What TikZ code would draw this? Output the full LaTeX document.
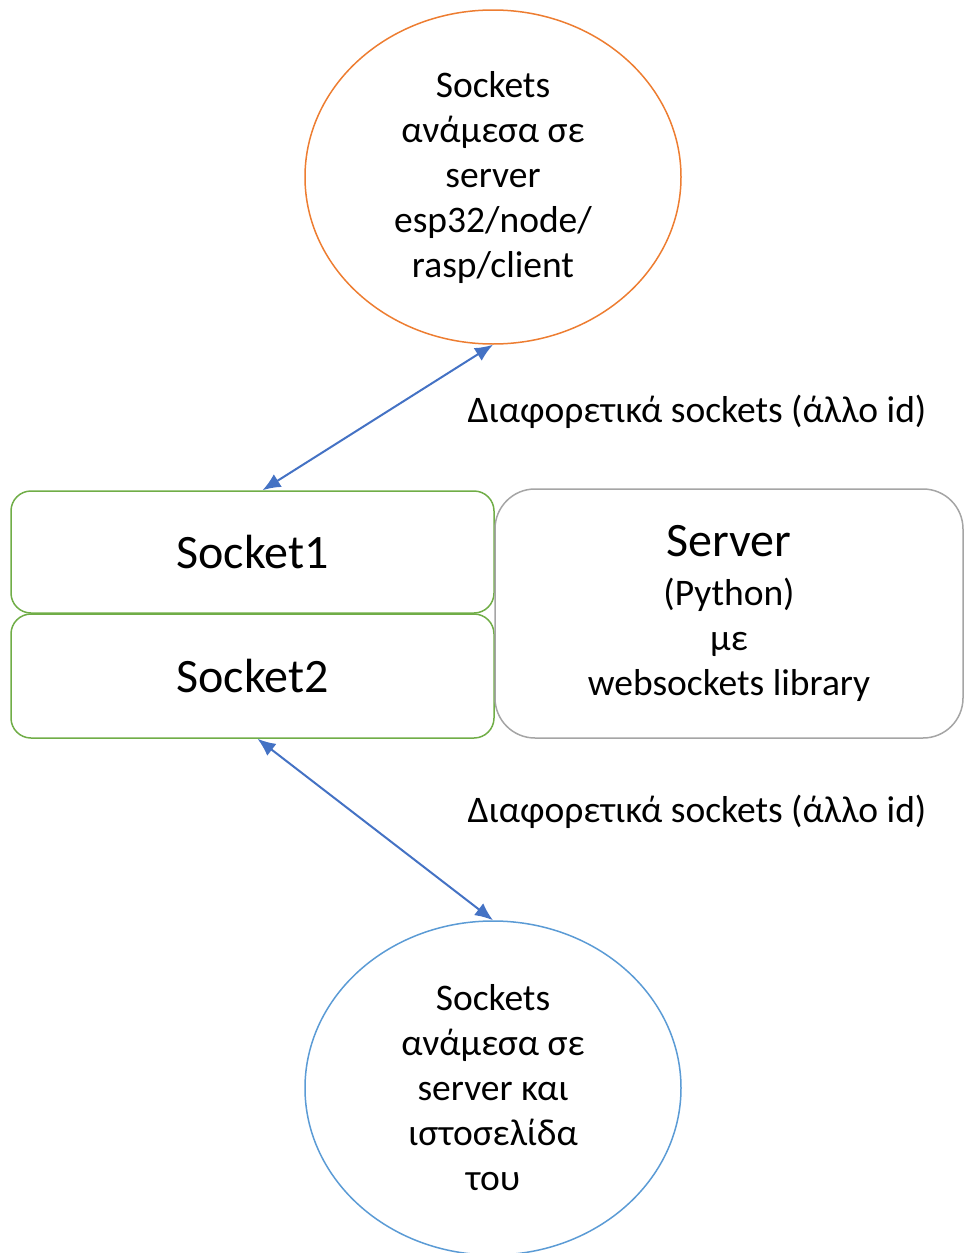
\documentclass[tikz,border=0pt]{standalone}
\usepackage{fontspec}
\setmainfont{Carlito}
\usetikzlibrary{shapes.geometric,arrows.meta}

\definecolor{orangeoff}{HTML}{ED7D31}
\definecolor{vertoff}{HTML}{70AD47}
\definecolor{bleuoff}{HTML}{4472C4}
\definecolor{bleuclair}{HTML}{5B9BD5}
\definecolor{grisoff}{HTML}{A5A5A5}

\tikzset{
  bulle/.style={ellipse, draw, line width=1.5pt, minimum width=376pt, minimum height=334pt,
    inner sep=0pt, align=center, font=\fontsize{37.5}{45}\selectfont},
  boite/.style={draw, line width=1.5pt, rounded corners=20pt, inner sep=0pt, align=center},
  lien/.style={bleuoff, line width=2pt, {Latex[length=18pt,width=15pt]}-{Latex[length=18pt,width=15pt]}},
  legende/.style={font=\fontsize{37.5}{45}\selectfont}
}

\begin{document}
\begin{tikzpicture}[x=1pt,y=-1pt]
\useasboundingbox (0,0) rectangle (966,1253);

% Bulles
\node[bulle, orangeoff, text=black] (haut) at (493,177)
  {Sockets\\ανάμεσα σε\\server\\esp32/node/\\rasp/client};
\node[bulle, bleuclair, text=black] (bas) at (493,1088)
  {Sockets\\ανάμεσα σε\\server και\\ιστοσελίδα\\του};

% Sockets
\node[boite, vertoff, text=black, minimum width=483pt, minimum height=122pt,
  font=\fontsize{48}{56}\selectfont] (sock1) at (252.5,552) {Socket1};
\node[boite, vertoff, text=black, minimum width=483pt, minimum height=124pt,
  font=\fontsize{48}{56}\selectfont] (sock2) at (252.5,676) {Socket2};

% Server
\node[boite, grisoff, text=black, rounded corners=40pt, minimum width=468pt, minimum height=249pt,
  font=\fontsize{37.5}{45}\selectfont] (serveur) at (729,613.5)
  {{\fontsize{48}{56}\selectfont Server}\\[4pt](Python)\\με\\websockets library};

% Liens
\draw[lien] ([xshift=10pt]sock1.north) -- (haut.south);
\draw[lien] ([xshift=5pt]sock2.south) -- (bas.north);

% Légendes
\node[legende] (leg1) at (697,412) {Διαφορετικά sockets (άλλο id)};
\node[legende] (leg2) at (697,812) {Διαφορετικά sockets (άλλο id)};

\end{tikzpicture}
\end{document}
